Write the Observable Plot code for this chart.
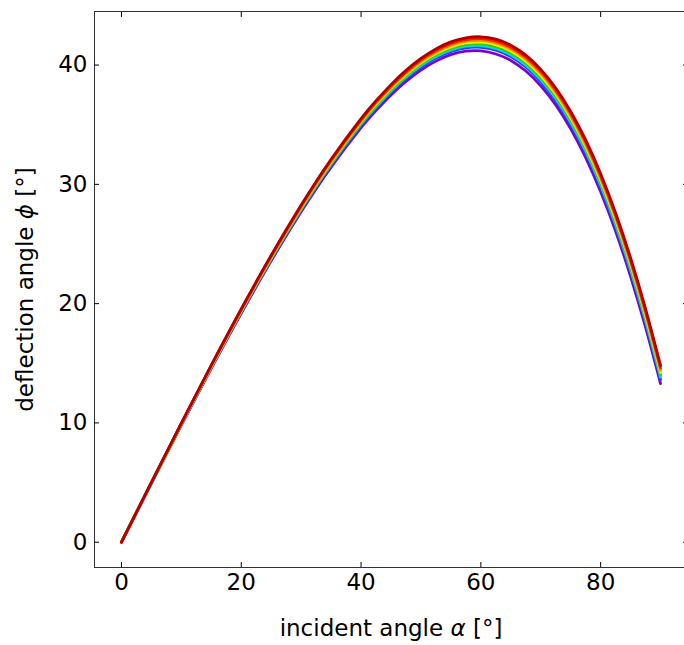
<!DOCTYPE html>
<html><head><meta charset="utf-8">
<script src="https://cdn.jsdelivr.net/npm/d3@7"></script>
<script src="https://cdn.jsdelivr.net/npm/@observablehq/plot@0.6"></script>
<style>html,body{margin:0;padding:0;background:#fff;overflow:hidden}</style>
</head><body><div id="chart"></div>
<script>
// incident angle α (degrees)
const alpha = [0,5,10,15,20,25,30,35,40,42.5,45,47.5,50,52.5,55,57.5,60,62.5,65,67.5,70,72.5,75,77.5,80,82.5,85,87.5,90];
// deflection angle ϕ (degrees), one array per wavelength (red → violet)
const phiDeepRed = [0,5.02,9.99,14.85,19.56,24.05,28.26,32.11,35.51,37.01,38.36,39.55,40.55,41.35,41.94,42.28,42.37,42.17,41.66,40.83,39.64,38.08,36.11,33.72,30.89,27.60,23.83,19.57,14.82];
const phiRed     = [0,5.01,9.96,14.82,19.51,23.99,28.19,32.03,35.41,36.91,38.25,39.43,40.43,41.22,41.80,42.14,42.22,42.01,41.50,40.66,39.47,37.90,35.93,33.54,30.70,27.41,23.63,19.37,14.62];
const phiOrange  = [0,4.99,9.94,14.78,19.47,23.94,28.12,31.94,35.32,36.81,38.15,39.32,40.31,41.10,41.67,42.00,42.07,41.86,41.34,40.50,39.30,37.73,35.75,33.35,30.51,27.21,23.44,19.18,14.43];
const phiYellow  = [0,4.98,9.92,14.75,19.42,23.88,28.05,31.86,35.23,36.71,38.04,39.20,40.19,40.97,41.53,41.86,41.92,41.71,41.18,40.33,39.13,37.55,35.57,33.17,30.33,27.02,23.25,18.98,14.23];
const phiGreen   = [0,4.97,9.90,14.72,19.38,23.82,27.98,31.78,35.13,36.61,37.93,39.09,40.07,40.84,41.40,41.72,41.78,41.55,41.02,40.17,38.96,37.37,35.39,32.98,30.14,26.83,23.05,18.79,14.04];
const phiCyan    = [0,4.96,9.87,14.68,19.33,23.76,27.91,31.70,35.04,36.50,37.82,38.98,39.95,40.71,41.27,41.58,41.63,41.40,40.87,40.00,38.79,37.20,35.21,32.80,29.95,26.64,22.86,18.59,13.84];
const phiBlue    = [0,4.95,9.85,14.65,19.29,23.71,27.84,31.62,34.94,36.40,37.72,38.86,39.82,40.59,41.13,41.44,41.48,41.25,40.71,39.84,38.62,37.02,35.03,32.61,29.76,26.45,22.66,18.40,13.64];
const phiViolet  = [0,4.93,9.81,14.58,19.19,23.59,27.70,31.44,34.75,36.20,37.50,38.63,39.58,40.33,40.87,41.16,41.19,40.93,40.39,39.50,38.27,36.66,34.66,32.24,29.38,26.07,22.27,18.00,13.30];

const seriesValues = [phiViolet, phiBlue, phiCyan, phiGreen, phiYellow, phiOrange, phiRed, phiDeepRed];
const seriesColors = ["#7a00d8", "#2040ff", "#00d8e8", "#30d000", "#f4ec00", "#ff8c00", "#ff1a00", "#b00000"];

const xTicks = [0, 20, 40, 60, 80];
const yTicks = [0, 10, 20, 30, 40];
const xLabel = "incident angle α [°]";
const yLabel = "deflection angle ϕ [°]";

const lines = seriesValues.map((vals, i) =>
  Plot.line(vals, {x: alpha, y: vals, stroke: seriesColors[i], strokeWidth: 2.8, curve: "natural"})
);

const plot = Plot.plot({
  width: 684,
  height: 645,
  marginLeft: 94,
  marginRight: -3,
  marginTop: 11,
  marginBottom: 78,
  x: {domain: [-4.5, 94.5]},
  y: {domain: [-2.12, 44.49]},
  style: {fontFamily: "DejaVu Sans", fontSize: "23px", background: "#fff", color: "#000", overflow: "hidden"},
  marks: [
    ...lines,
    Plot.frame({stroke: "#333", strokeWidth: 1}),
    Plot.axisX({anchor: "bottom", ticks: xTicks, tickSize: -5, tickPadding: 11, label: null, fontSize: 23}),
    Plot.axisX({anchor: "top", ticks: xTicks, tickSize: -5, tickFormat: () => "", label: null}),
    Plot.axisY({anchor: "left", ticks: yTicks, tickSize: -5, tickPadding: 12, label: null, fontSize: 23}),
    Plot.axisY({anchor: "right", ticks: yTicks, tickSize: -5, tickFormat: () => "", label: null}),
    Plot.text([xLabel], {frameAnchor: "bottom", dy: 61, text: d => d, textAnchor: "middle", lineAnchor: "middle", fontSize: 23}),
    Plot.text([yLabel], {frameAnchor: "left", dx: -69, rotate: -90, text: d => d, textAnchor: "middle", lineAnchor: "middle", fontSize: 23})
  ]
});

const ns = "http://www.w3.org/2000/svg";
plot.querySelectorAll("text").forEach(t => {
  const s = t.textContent;
  const m = s.match(/[αϕ]/);
  if (!m || t.querySelector("tspan")) return;
  const i = m.index;
  t.textContent = "";
  const a = document.createElementNS(ns, "tspan"); a.textContent = s.slice(0, i);
  const b = document.createElementNS(ns, "tspan"); b.textContent = s[i]; b.setAttribute("font-style", "italic");
  const c = document.createElementNS(ns, "tspan"); c.textContent = s.slice(i + 1);
  t.append(a, b, c);
});

document.getElementById("chart").append(plot);
</script>
</body></html>
